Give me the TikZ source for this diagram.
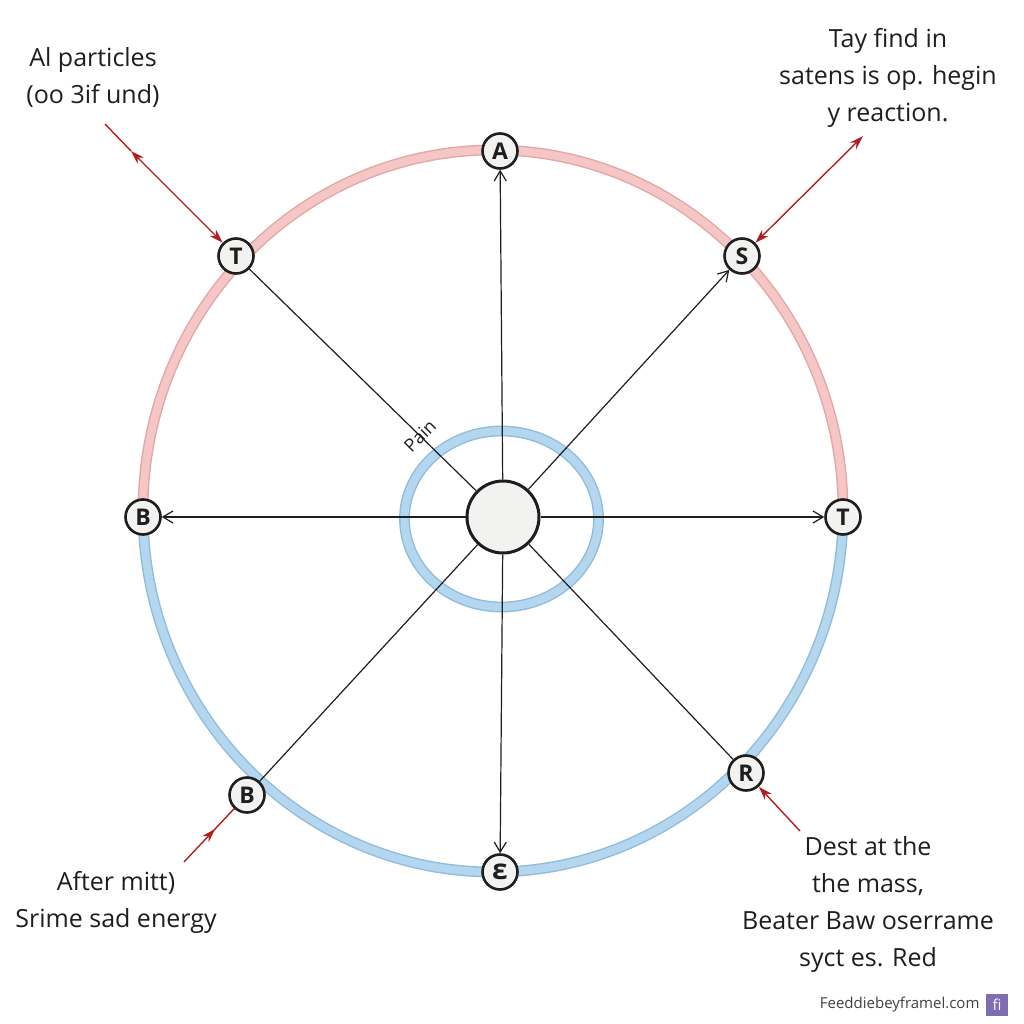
\documentclass[tikz,border=0pt]{standalone}
\usepackage{fontspec}
\setmainfont{Open Sans}
\usetikzlibrary{arrows.meta,decorations.markings}
\definecolor{pinkfill}{RGB}{244,198,198}
\definecolor{pinkedge}{RGB}{228,165,165}
\definecolor{bluefill}{RGB}{180,214,238}
\definecolor{blueedge}{RGB}{142,188,220}
\definecolor{arrowred}{RGB}{180,30,30}
\definecolor{nodefill}{RGB}{242,242,240}
\definecolor{badgecol}{RGB}{128,108,176}
\definecolor{inkcol}{RGB}{30,30,30}
\begin{document}
\begin{tikzpicture}[x=1pt,y=-1pt,
  letter/.style={circle, draw=inkcol, line width=2.6pt, fill=nodefill, minimum size=35pt, inner sep=0pt, font=\fontsize{23}{23}\selectfont\bfseries, text=inkcol},
  hub/.style={circle, draw=inkcol, line width=3pt, fill=nodefill, minimum size=72pt, inner sep=0pt},
  spoke/.style={draw=inkcol, line width=1.2pt},
  spokearrow/.style={spoke, -{Straight Barb[length=10pt,width=12pt,line width=1.2pt]}},
  pinkband/.style={draw=pinkedge, double=pinkfill, double distance=8pt, line width=1.4pt},
  blueband/.style={draw=blueedge, double=bluefill, double distance=8pt, line width=1.4pt},
  redline/.style={draw=arrowred, line width=1.4pt},
  redtip/.tip={Stealth[length=14pt,width=9pt]},
  label/.style={font=\fontsize{25}{37}\selectfont, align=center, text=inkcol},
]
\useasboundingbox (0,0) rectangle (1024,1024);
\fill[white] (0,0) rectangle (1024,1024);

% outer ring
\draw[pinkband] (143,511) arc[start angle=180, end angle=360, x radius=350, y radius=361];
\draw[blueband] (843,511) arc[start angle=0, end angle=180, x radius=350, y radius=361];

% inner ring
\draw[blueband] (501.5,519) ellipse[x radius=97, y radius=88];

% hub
\node[hub] (hub) at (503,517) {};

% outer nodes
\node[letter] (A) at (500,151) {A};
\node[letter] (T1) at (236,256) {T};
\node[letter] (S) at (742,256) {S};
\node[letter] (B1) at (143,517) {B};
\node[letter] (T2) at (843,517) {T};
\node[letter] (B2) at (247,795) {B};
\node[letter] (R) at (746,773) {R};
\node[letter, font=\fontsize{28}{28}\selectfont\bfseries] (E) at (500,872) {ε};

% spokes
\draw[spokearrow] (hub) -- (A);
\draw[spokearrow] (hub) -- (S);
\draw[spokearrow] (hub) -- (B1);
\draw[spokearrow] (hub) -- (T2);
\draw[spokearrow] (hub) -- (E);
\draw[spoke] (hub) -- (T1);
\draw[spoke] (hub) -- (B2);
\draw[spoke] (hub) -- (R);

% Pain label
\node[font=\fontsize{18}{18}\selectfont, rotate=45, text=inkcol, inner sep=0pt] (pain) at (420,436) {Pain};

% red arrows
\coordinate (tl0) at (105,124);
\coordinate (tl1) at (131,151);
\draw[redline] (tl0) -- (tl1);
\draw[redline, redtip-redtip] (tl1) -- (T1);
\coordinate (tr0) at (863,136);
\draw[redline, redtip-redtip] (tr0) -- (S);
\coordinate (bl0) at (184,862);
\draw[redline, postaction={decorate}, decoration={markings, mark=at position 0.62 with {\arrow{redtip}}}] (bl0) -- (B2);
\coordinate (br0) at (800,831);
\draw[redline, -redtip] (br0) -- (R);

% text labels
\node[label] (t1) at (93,77) {Al particles\\(oo 3if und)};
\node[label] (t2) at (888,78) {Tay find in\\satens is op. hegin\\y reaction.};
\node[label] (t3) at (116,902) {After mitt)\\Srime sad energy};
\node[label] (t4) at (868,904) {Dest at the\\the mass,\\Beater Baw oserrame\\syct es. Red};

% footer
\node[fill=badgecol, minimum size=22pt, inner sep=0pt, text=white, font=\fontsize{15}{15}\selectfont] (badge) at (997,1005) {fi};
\node[font=\fontsize{15}{15}\selectfont, anchor=east, text=inkcol!85] (url) at (983,1005) {Feeddiebeyframel.com};
\end{tikzpicture}
\end{document}
